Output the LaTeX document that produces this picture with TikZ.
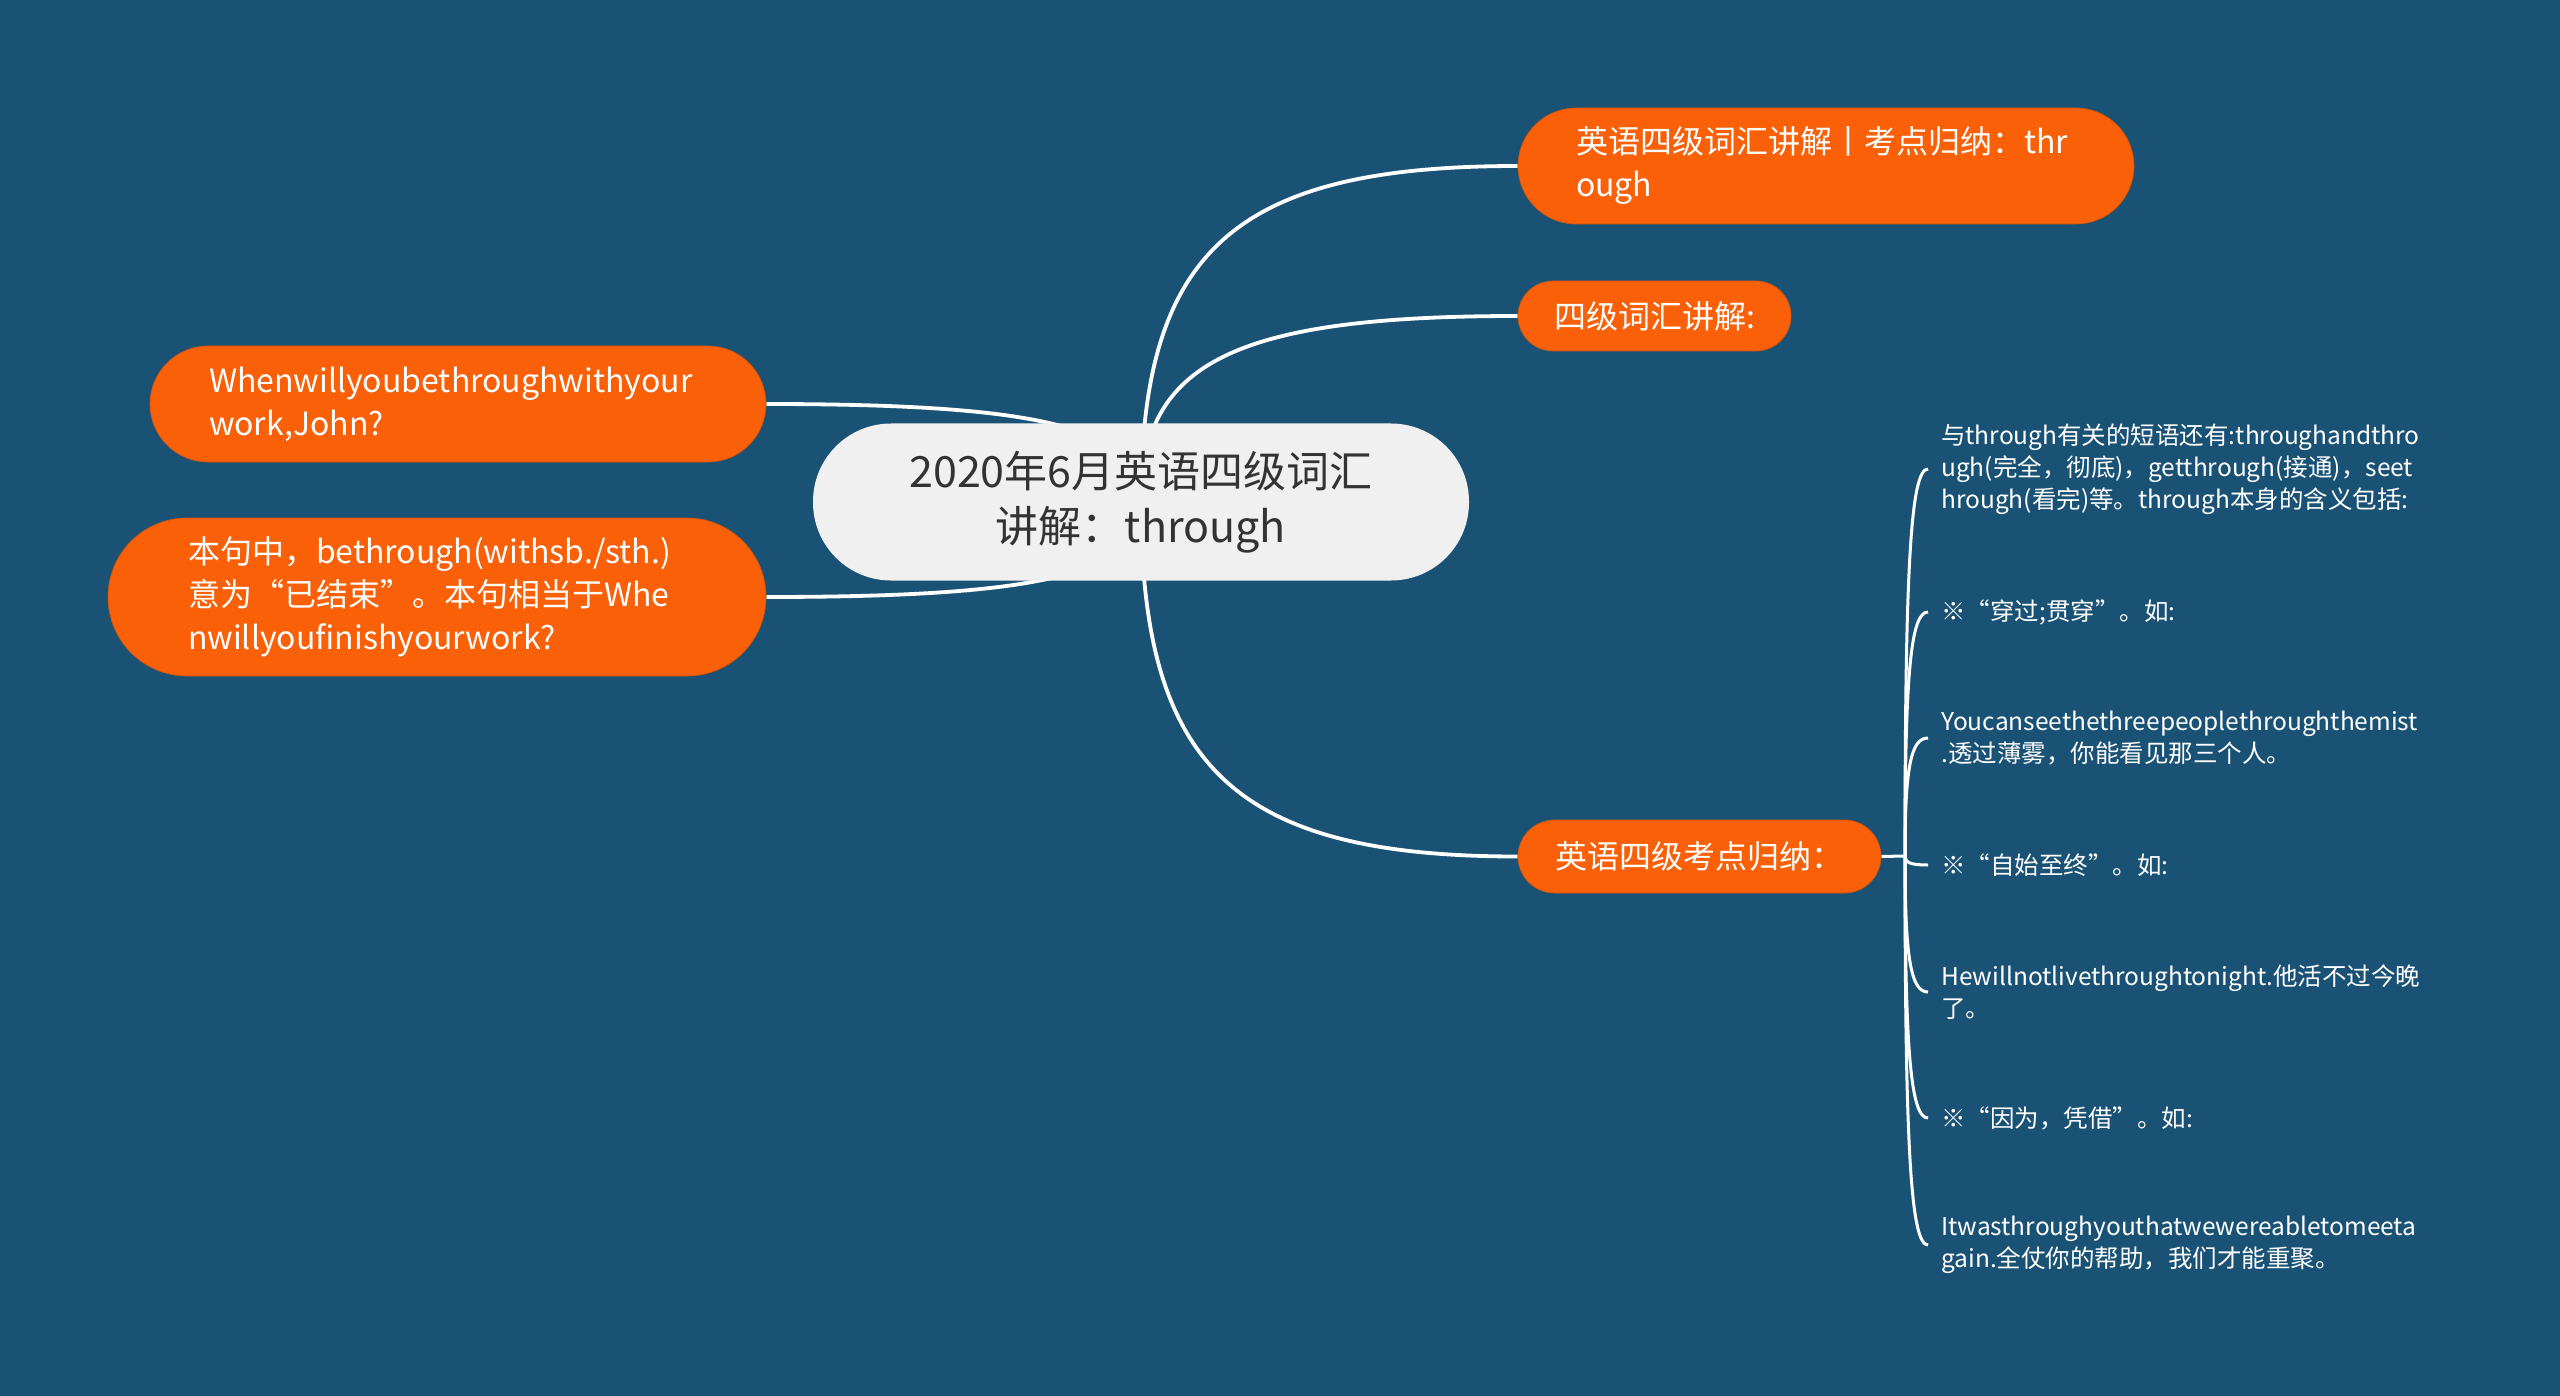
\documentclass[tikz,border=0pt]{standalone}
\usepackage{fontspec}
\setmainfont{Noto Sans CJK SC}
\usepackage{xcolor}
\usetikzlibrary{calc}
\definecolor{mapbg}{HTML}{1A5276}
\definecolor{maporange}{HTML}{F96007}
\definecolor{maproot}{HTML}{F0F0F0}
\definecolor{maptext}{HTML}{333333}
\pgfdeclarelayer{bg}
\pgfdeclarelayer{edges}
\pgfsetlayers{bg,edges,main}
\hyphenpenalty=10000

\begin{document}
\begin{tikzpicture}[x=1pt, y=-1pt,
      rootbox/.style={fill=maproot, text=maptext, rounded corners=78pt, minimum width=656pt,
                      minimum height=157pt, align=center, inner sep=0pt,
                      font=\fontsize{43}{55}\selectfont},
      topic/.style={fill=maporange, draw=maporange!85!black, line width=0.6pt, text=white,
                    inner ysep=0pt, font=\fontsize{32}{43}\selectfont},
      leaf/.style={anchor=west, text=white, align=left, inner xsep=13pt, inner ysep=2pt,
                   font=\fontsize{24.5}{32}\selectfont},
      link/.style={draw=white, line width=3.8pt},
      leaflink/.style={draw=white, line width=3pt},
      mapcurve/.style={to path={.. controls ($(\tikztostart)!0.75!(\tikztostart |- \tikztotarget)$)
                       and ($(\tikztotarget)!0.75!(\tikztostart |- \tikztotarget)$) .. (\tikztotarget)}}
    ]
    \useasboundingbox (0,0) rectangle (2560,1396);
    \begin{pgfonlayer}{bg}
      \fill[mapbg] (0,0) rectangle (2560,1396);
    \end{pgfonlayer}
    \node[rootbox] (root) at (1141,502) {2020年6月英语四级词汇\\讲解：through};
    \node[topic, text width=500pt, inner xsep=58pt, minimum height=116pt, rounded corners=58pt,
          align=left] (kd) at (1826,166) {英语四级词汇讲解丨考点归纳：thr\\ough};
    \node[topic, minimum width=273pt, minimum height=70pt, rounded corners=35pt,
          align=center] (cj) at (1654.5,316) {四级词汇讲解:};
    \node[topic, minimum width=363pt, minimum height=73pt, rounded corners=36.5pt,
          align=center] (gn) at (1699.5,856.5) {英语四级考点归纳：};
    \node[topic, text width=498pt, inner xsep=59pt, minimum height=116pt, rounded corners=58pt,
          align=left] (lj) at (458,404) {Whenwillyoubethroughwithyour\\work,John?};
    \node[topic, text width=498pt, inner xsep=80pt, minimum height=158pt, rounded corners=79pt,
          align=left] (yi) at (437,597) {本句中，bethrough(withsb./sth.)\\意为“已结束”。本句相当于Whe\\nwillyoufinishyourwork?};
    \coordinate (jt) at (1905,856);
    \node[leaf] (dy) at (1928,469) {与through有关的短语还有:throughandthro\\ugh(完全，彻底)，getthrough(接通)，seet\\hrough(看完)等。through本身的含义包括:};
    \node[leaf] (cg) at (1928,612) {※“穿过;贯穿”。如:};
    \node[leaf] (lz1) at (1928,738) {Youcanseethethreepeoplethroughthemist\\.透过薄雾，你能看见那三个人。};
    \node[leaf] (zs) at (1928,865) {※“自始至终”。如:};
    \node[leaf] (lz2) at (1928,992) {Hewillnotlivethroughtonight.他活不过今晚\\了。};
    \node[leaf] (yw) at (1928,1118) {※“因为，凭借”。如:};
    \node[leaf] (lz3) at (1928,1245) {Itwasthroughyouthatwewereabletomeeta\\gain.全仗你的帮助，我们才能重聚。};
    \begin{pgfonlayer}{edges}
      \draw[link] (root.center) to[mapcurve] (kd.west);
      \draw[link] (root.center) to[mapcurve] (cj.west);
      \draw[link] (root.center) to[mapcurve] (gn.west);
      \draw[link] (root.center) to[mapcurve] (lj.east);
      \draw[link] (root.center) to[mapcurve] (yi.east);
      \draw[leaflink] (gn.east) -- (jt);
      \foreach \lf in {dy,cg,lz1,zs,lz2,yw,lz3}
        \draw[leaflink] (jt) to[mapcurve] (\lf.west);
    \end{pgfonlayer}
  \end{tikzpicture}
\end{document}
